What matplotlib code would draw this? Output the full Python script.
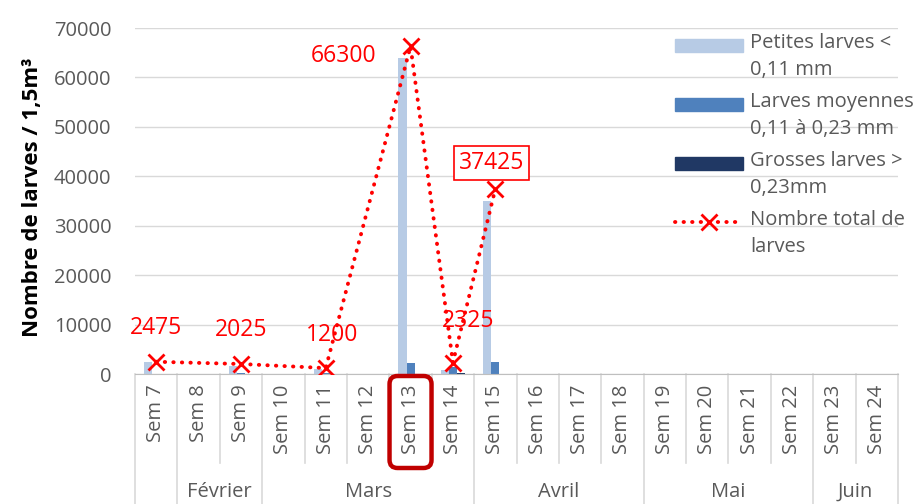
import numpy as np
import matplotlib
matplotlib.use("Agg")
import matplotlib.pyplot as plt
from matplotlib.patches import FancyBboxPatch, Rectangle
from matplotlib.lines import Line2D
from matplotlib.transforms import IdentityTransform

plt.rcParams["font.family"] = ["Open Sans", "DejaVu Sans"]

# --------------------------------------------------
# Data
# --------------------------------------------------

weeks = ["Sem 7", "Sem 8", "Sem 9", "Sem 10", "Sem 11", "Sem 12",
         "Sem 13", "Sem 14", "Sem 15", "Sem 16", "Sem 17", "Sem 18",
         "Sem 19", "Sem 20", "Sem 21", "Sem 22", "Sem 23", "Sem 24"]

months = ["", "Février", "Mars", "Avril", "Mai", "Juin"]
month_sizes = [1, 2, 5, 4, 4, 2]

petites = [2400, 0, 1700, 0, 1000, 0, 64000, 800, 35000,
           0, 0, 0, 0, 0, 0, 0, 0, 0]
moyennes = [75, 0, 300, 0, 150, 0, 2200, 1400, 2400,
            0, 0, 0, 0, 0, 0, 0, 0, 0]
grosses = [0, 0, 25, 0, 50, 0, 100, 125, 25,
           0, 0, 0, 0, 0, 0, 0, 0, 0]

total = [2475, None, 2025, None, 1200, None, 66300, 2325, 37425,
         None, None, None, None, None, None, None, None, None]

highlight_week = "Sem 13"

# --------------------------------------------------
# Figure
# --------------------------------------------------

W, H = 919, 504
fig = plt.figure(figsize=(W / 100, H / 100), dpi=100)

ax_left, ax_right, ax_bottom, ax_top = 135, 898, 374, 28
ax = fig.add_axes([ax_left / W, (H - ax_bottom) / H,
                   (ax_right - ax_left) / W, (ax_bottom - ax_top) / H])

grey = "#595959"
c_pet = "#B7CBE5"
c_moy = "#4F81BD"
c_gro = "#203864"
red = "#FF0000"

x = np.arange(len(weeks))
bw = 0.19

ax.bar(x - bw, petites, bw, color=c_pet, zorder=2)
ax.bar(x, moyennes, bw, color=c_moy, zorder=2)
ax.bar(x + bw, grosses, bw, color=c_gro, zorder=2)

tx = [i for i, v in enumerate(total) if v is not None]
ty = [v for v in total if v is not None]
ax.plot(tx, ty, color=red, lw=2.8, linestyle=(0, (0.1, 2.1)),
        dash_capstyle="round", marker="x", markersize=11,
        markeredgewidth=2, zorder=4)

# data labels (offset in pixels from each point)
offsets = {0: (0, 34), 2: (0, 34), 4: (6, 33), 6: (-67, -10),
           7: (15, 42), 8: (-4, 26)}
for i, v in zip(tx, ty):
    dx, dy = offsets[i]
    kw = {}
    if i == 8:
        kw["bbox"] = dict(boxstyle="square,pad=0.2", fc="white",
                          ec=red, lw=1.2)
    ax.annotate(str(v), (i, v), xytext=(dx, dy), textcoords="offset pixels",
                ha="center", va="center", color=red, fontsize=16.5, zorder=5,
                **kw)

ax.set_xlim(-0.5, len(weeks) - 0.5)
ax.set_ylim(0, 70000)
ax.set_yticks(range(0, 70001, 10000))
ax.tick_params(axis="y", length=0, pad=17, labelsize=14.5, labelcolor=grey)
ax.set_xticks([])
ax.grid(axis="y", color="#D9D9D9", lw=1, zorder=0)
for s in ["top", "right", "left"]:
    ax.spines[s].set_visible(False)
ax.spines["bottom"].set_color("#BFBFBF")
ax.spines["bottom"].set_zorder(3)

ax.set_ylabel("Nombre de larves / 1,5m³", fontsize=16, fontweight="bold",
              color="black")
ax.yaxis.set_label_coords(-0.12, 0.51)

# category axis: week labels, month groups, separators
tr = ax.get_xaxis_transform()
y_week_bot = -(463 - ax_bottom) / (ax_bottom - ax_top)
y_group_bot = -(H - ax_bottom) / (ax_bottom - ax_top)
y_month = -(492 - ax_bottom) / (ax_bottom - ax_top)

for i, w in enumerate(weeks):
    ax.text(i, -0.03, w, transform=tr, rotation=90, ha="center", va="top",
            fontsize=14.5, color=grey)

bounds = np.cumsum([0] + month_sizes) - 0.5
for k in range(len(weeks) + 1):
    b = k - 0.5
    y1 = y_group_bot if b in bounds else y_week_bot
    ax.plot([b, b], [0, y1], transform=tr, color="#D9D9D9", lw=1.2,
            clip_on=False)

for m, a, b in zip(months, bounds[:-1], bounds[1:]):
    ax.text((a + b) / 2, y_month, m, transform=tr, ha="center", va="center",
            fontsize=14.5, color=grey)

# highlighted week box
fig.canvas.draw()
hi = weeks.index(highlight_week)
cx = ax.transData.transform((hi, 0))[0]
fig.add_artist(FancyBboxPatch((cx - 21, H - 468), 42, 92,
                              boxstyle="round,pad=0,rounding_size=8",
                              transform=IdentityTransform(), fill=False,
                              ec="#C00000", lw=3.2, zorder=6))

# legend
leg_labels = ["Petites larves <\n0,11 mm", "Larves moyennes\n0,11 à 0,23 mm",
              "Grosses larves >\n0,23mm", "Nombre total de\nlarves"]
leg_colors = [c_pet, c_moy, c_gro]
for k, lab in enumerate(leg_labels):
    yc = 45 + 59 * k
    if k < 3:
        fig.add_artist(Rectangle((675, H - yc - 6.5), 68, 13,
                                 transform=IdentityTransform(),
                                 color=leg_colors[k], zorder=6))
    else:
        fig.add_artist(Line2D([675, 743], [H - yc, H - yc],
                              transform=IdentityTransform(), color=red,
                              lw=2.8, linestyle=(0, (0.1, 2.1)),
                              dash_capstyle="round", zorder=6))
        fig.add_artist(Line2D([709], [H - yc], transform=IdentityTransform(),
                              color=red, marker="x", markersize=11,
                              markeredgewidth=2, zorder=6))
    fig.text(750 / W, (H - yc + 12) / H, lab, ha="left", va="top",
             fontsize=14.5, color=grey, linespacing=1.45)

fig.savefig("out.png", dpi=100)
